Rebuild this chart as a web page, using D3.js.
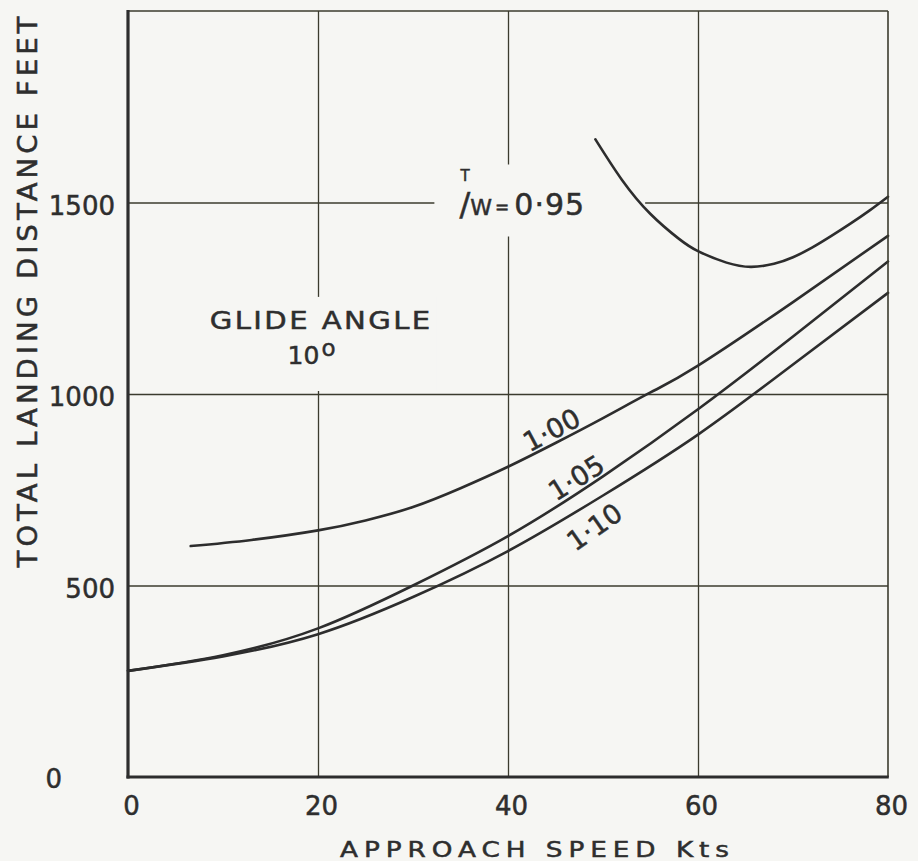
<!DOCTYPE html>
<html><head><meta charset="utf-8">
<script src="https://cdn.jsdelivr.net/npm/d3@7"></script>
<style>
html,body{margin:0;padding:0;background:#f6f6f3;}
svg{display:block;}
text{font-family:"DejaVu Sans",sans-serif;fill:#2e2e2e;stroke:#2e2e2e;stroke-width:0.5px;}
</style>
</head><body>
<svg id="chart" width="918" height="861"></svg>
<script>
// ---- data ----
const speedTicks = [0, 20, 40, 60, 80];
const distanceTicks = [0, 500, 1000, 1500];
const seriesLabels = ["0·95", "1·00", "1·05", "1·10"];
const speed095 = [49.2, 52, 55, 58, 60, 63, 65.6, 68, 70, 72, 74, 76, 78, 80];
const dist095  = [1665, 1559, 1470, 1405, 1373, 1343, 1332, 1340, 1357, 1382, 1412, 1444, 1478, 1515];
const speed100 = [6.6, 13, 20, 25, 30, 35, 40, 45, 50, 55, 60, 70, 80];
const dist100  = [603, 619, 644, 670, 705, 754, 810, 872, 937, 1004, 1074, 1240, 1413];
const speed105 = [0, 10, 20, 30, 40, 50, 60, 70, 80];
const dist105  = [277, 318, 388, 500, 629, 785, 960, 1150, 1346];
const speed110 = [0, 10, 20, 30, 40, 50, 60, 70, 80];
const dist110  = [277, 315, 373, 470, 590, 735, 894, 1077, 1264];
const xTitle = "APPROACH SPEED Kts";
const yTitle = "TOTAL LANDING DISTANCE FEET";
const noteLine1 = "GLIDE ANGLE";
const noteLine2 = "10";

// ---- build ----
const svg = d3.select("#chart");
const W = 918, H = 861;
const x = d3.scaleLinear().domain([0, 80]).range([128, 888]);
const y = d3.scaleLinear().domain([0, 2000]).range([777, 11]);
const ink = "#2d2d2d", gridInk = "#3b3b2e", bg = "#f6f6f3";

svg.append("rect").attr("width", W).attr("height", H).attr("fill", bg);

const gridLayer = svg.append("g");
const maskLayer = svg.append("g");
const curveLayer = svg.append("g");
const labelLayer = svg.append("g");
const axisLayer = svg.append("g");

// grid via axes
gridLayer.append("g").attr("transform", `translate(0,${y(0)})`)
  .call(d3.axisBottom(x).tickValues(speedTicks.filter(d => d > 0 && d < 80))
        .tickSize(-(y(0) - y(2000))).tickFormat(""));
gridLayer.append("g").attr("transform", `translate(${x(0)},0)`)
  .call(d3.axisLeft(y).tickValues(distanceTicks.filter(d => d > 0))
        .tickSize(-(x(80) - x(0))).tickFormat(""));
gridLayer.selectAll(".domain").remove();
gridLayer.selectAll(".tick line").attr("stroke", gridInk).attr("stroke-width", 1.3);

// frame: top and right thin
axisLayer.append("line").attr("x1", x(0)).attr("x2", x(80)).attr("y1", y(2000)).attr("y2", y(2000))
  .attr("stroke", gridInk).attr("stroke-width", 1.6);
axisLayer.append("line").attr("x1", x(80)).attr("x2", x(80)).attr("y1", y(2000)).attr("y2", y(0))
  .attr("stroke", gridInk).attr("stroke-width", 1.6);
// left & bottom thick
axisLayer.append("line").attr("x1", x(0)).attr("x2", x(0)).attr("y1", y(2000) - 1).attr("y2", y(0) + 1.5)
  .attr("stroke", ink).attr("stroke-width", 3.2);
axisLayer.append("line").attr("x1", x(0) - 1.5).attr("x2", x(80) + 0.8).attr("y1", y(0)).attr("y2", y(0))
  .attr("stroke", ink).attr("stroke-width", 3.2);

// tick labels via axes
const ax = axisLayer.append("g").attr("transform", `translate(0,${y(0)})`)
  .call(d3.axisBottom(x).tickValues(speedTicks).tickSize(0).tickPadding(20).tickFormat(d3.format("d")));
ax.select(".domain").remove();
ax.selectAll("text").attr("font-size", 26).attr("dx", 3).attr("fill", "#2e2e2e")
  .style("font-family", "'DejaVu Sans', sans-serif");

const ay = axisLayer.append("g").attr("transform", `translate(${x(0)},0)`)
  .call(d3.axisLeft(y).tickValues(distanceTicks).tickSize(0).tickPadding(13).tickFormat(d3.format("d")));
ay.select(".domain").remove();
ay.selectAll("text").attr("font-size", 26).attr("dy", "0.45em").attr("fill", "#2e2e2e")
  .style("font-family", "'DejaVu Sans', sans-serif");
ay.selectAll(".tick").filter(d => d === 0).select("text").attr("x", -66).attr("dy", "0.40em");

// axis titles
axisLayer.append("text").attr("x", 340).attr("y", 857).attr("font-size", 22)
  .attr("textLength", 395).attr("lengthAdjust", "spacingAndGlyphs").attr("letter-spacing", 5).text(xTitle);
axisLayer.append("text").attr("transform", "translate(37,290) rotate(-90)")
  .attr("text-anchor", "middle").attr("font-size", 27).attr("letter-spacing", 4)
  .attr("textLength", 555).attr("lengthAdjust", "spacingAndGlyphs").text(yTitle);

// curves
const line = d3.line().x(d => x(d[0])).y(d => y(d[1])).curve(d3.curveNatural);
const series = [
  [speed095, dist095], [speed100, dist100], [speed105, dist105], [speed110, dist110]
];
series.forEach(([s, v]) => {
  curveLayer.append("path").datum(s.map((d, i) => [d, v[i]]))
    .attr("d", line).attr("fill", "none").attr("stroke", ink)
    .attr("stroke-width", 2.6).attr("stroke-linecap", "round");
});

// T/W label (one text element)
const tw = labelLayer.append("text").attr("x", x(34.9)).attr("y", y(1500) + 12);
tw.append("tspan").attr("font-size", 15).attr("dy", -34).text("T");
tw.append("tspan").attr("font-size", 32).attr("dx", -10).attr("dy", 34).text("/");
tw.append("tspan").attr("font-size", 22).attr("dx", 0).text("W");
tw.append("tspan").attr("font-size", 17).attr("dx", 3).attr("dy", -2).text("=");
tw.append("tspan").attr("font-size", 30).attr("dx", 5).attr("dy", 2).attr("letter-spacing", 1).text(seriesLabels[0]);

// glide angle note
const note = labelLayer.append("g");
note.append("text").attr("x", x(8.6)).attr("y", y(1170)).attr("font-size", 24).attr("letter-spacing", 2)
  .attr("textLength", 223).attr("lengthAdjust", "spacingAndGlyphs").text(noteLine1);
const n2 = note.append("text").attr("x", x(16.8)).attr("y", y(1078)).attr("font-size", 25).text(noteLine2);
n2.append("tspan").attr("dx", 2).attr("dy", -8).attr("font-size", 23).text("o");

// masks behind labels (gaps in the grid)
function maskBehind(g, padL, padR, padT, bottomLimit) {
  const b = g.node().getBBox();
  const top = b.y - padT;
  maskLayer.append("rect").attr("x", b.x - padL).attr("y", top)
    .attr("width", b.width + padL + padR).attr("height", bottomLimit - top).attr("fill", bg);
}
{
  const b = tw.node().getBBox();
  maskBehind(tw, 25, 60, 2, b.y + b.height + 14);
}
maskBehind(note, 4, 4, 10, y(1000) - 3);

// curve labels
const curveLabels = [
  {t: seriesLabels[1], s: 44.6, v: 906, a: -28},
  {t: seriesLabels[2], s: 47.2, v: 781, a: -32},
  {t: seriesLabels[3], s: 49.1, v: 653, a: -35}
];
curveLabels.forEach(c => {
  labelLayer.append("text")
    .attr("transform", `translate(${x(c.s)},${y(c.v)}) rotate(${c.a})`)
    .attr("text-anchor", "middle").attr("dominant-baseline", "central")
    .attr("font-size", 27).text(c.t);
});
</script>
</body></html>
